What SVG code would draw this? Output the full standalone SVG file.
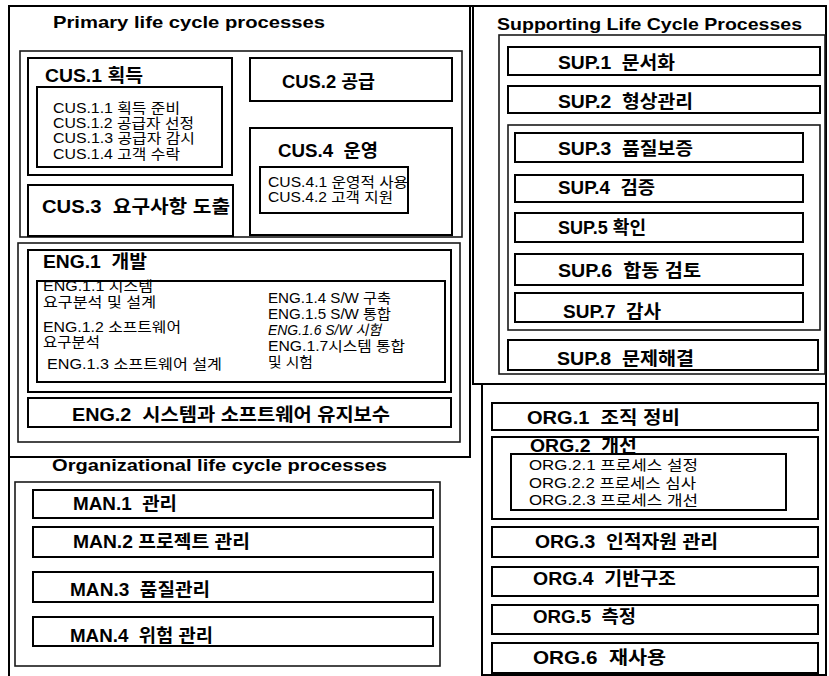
<svg xmlns="http://www.w3.org/2000/svg" width="829" height="676" viewBox="0 0 829 676">
<style>
.frame{fill:none;stroke:#000;stroke-width:2}
.cont{fill:none;stroke:#1a1a1a;stroke-width:1.6}
.box{fill:#fff;stroke:#000;stroke-width:2}
text{font-family:"Liberation Sans","Noto Sans CJK KR",sans-serif;fill:#000;white-space:pre}
.h{font-size:17px;font-weight:bold}
.b{font-size:18px;font-weight:bold}
.s{font-size:14px}
.i{font-style:italic}
</style>
<rect width="829" height="676" fill="#fff"/>

<g id="frames">
<path class="frame" d="M9,676 V6 H826 V384"/>
<path class="frame" d="M470,6 V457 H9"/>
<path class="frame" d="M473,6 V384 H826"/>
<path class="frame" d="M482,676 V384"/>
<path class="frame" d="M826,384 V675 H482"/>
</g>

<g id="primary">
<text class="h" x="53" y="28" textLength="272" lengthAdjust="spacingAndGlyphs">Primary life cycle processes</text>
<rect class="cont" x="20" y="51" width="442" height="186"/>
<rect class="cont" x="18" y="243" width="442" height="199"/>
</g>

<g id="cus1">
<rect class="box" x="28" y="58" width="204" height="117"/>
<text class="b" x="45" y="82" textLength="98" lengthAdjust="spacingAndGlyphs">CUS.1 획득</text>
<rect class="box" x="37" y="87" width="185" height="80"/>
<text class="s" x="53" y="113" textLength="127" lengthAdjust="spacingAndGlyphs">CUS.1.1 획득 준비</text>
<text class="s" x="53" y="128" textLength="141" lengthAdjust="spacingAndGlyphs">CUS.1.2 공급자 선정</text>
<text class="s" x="53" y="143" textLength="142" lengthAdjust="spacingAndGlyphs">CUS.1.3 공급자 감시</text>
<text class="s" x="53" y="159" textLength="127" lengthAdjust="spacingAndGlyphs">CUS.1.4 고객 수락</text>
</g>

<g id="cus2">
<rect class="box" x="250" y="58" width="202" height="43"/>
<text class="b" x="282" y="88" textLength="93" lengthAdjust="spacingAndGlyphs">CUS.2 공급</text>
</g>

<g id="cus3">
<rect class="box" x="28" y="185" width="205" height="51"/>
<text class="b" x="42" y="213" textLength="188" lengthAdjust="spacingAndGlyphs">CUS.3  요구사항 도출</text>
</g>

<g id="cus4">
<rect class="box" x="250" y="128" width="202" height="107"/>
<text class="b" x="278" y="157" textLength="100" lengthAdjust="spacingAndGlyphs">CUS.4  운영</text>
<rect class="box" x="260" y="167" width="148" height="46"/>
<text class="s" x="268" y="187" textLength="140" lengthAdjust="spacingAndGlyphs">CUS.4.1 운영적 사용</text>
<text class="s" x="268" y="202" textLength="125" lengthAdjust="spacingAndGlyphs">CUS.4.2 고객 지원</text>
</g>

<g id="eng1">
<rect class="box" x="28" y="250" width="423" height="142"/>
<text class="b" x="43" y="268" textLength="104" lengthAdjust="spacingAndGlyphs">ENG.1  개발</text>
<rect class="box" x="37" y="281" width="408" height="101"/>
<text class="s" x="43" y="291" textLength="110" lengthAdjust="spacingAndGlyphs">ENG.1.1 시스템</text>
<text class="s" x="43" y="307" textLength="113" lengthAdjust="spacingAndGlyphs">요구분석 및 설계</text>
<text class="s" x="43" y="332" textLength="138" lengthAdjust="spacingAndGlyphs">ENG.1.2 소프트웨어</text>
<text class="s" x="43" y="347" textLength="57" lengthAdjust="spacingAndGlyphs">요구분석</text>
<text class="s" x="47" y="369" textLength="175" lengthAdjust="spacingAndGlyphs">ENG.1.3 소프트웨어 설계</text>
<text class="s" x="268" y="303" textLength="123" lengthAdjust="spacingAndGlyphs">ENG.1.4 S/W 구축</text>
<text class="s" x="268" y="319" textLength="123" lengthAdjust="spacingAndGlyphs">ENG.1.5 S/W 통합</text>
<text class="s i" x="268" y="335" textLength="113" lengthAdjust="spacingAndGlyphs">ENG.1.6 S/W 시험</text>
<text class="s" x="268" y="351" textLength="137" lengthAdjust="spacingAndGlyphs">ENG.1.7시스템 통합</text>
<text class="s" x="268" y="367" textLength="45" lengthAdjust="spacingAndGlyphs">및 시험</text>
</g>

<g id="eng2">
<rect class="box" x="28" y="398" width="423" height="29"/>
<text class="b" x="72" y="421" textLength="318" lengthAdjust="spacingAndGlyphs">ENG.2  시스템과 소프트웨어 유지보수</text>
</g>

<g id="organizational">
<text class="h" x="52" y="471" textLength="335" lengthAdjust="spacingAndGlyphs">Organizational life cycle processes</text>
<rect class="cont" x="15" y="482" width="425" height="184"/>
</g>

<g id="man1">
<rect class="box" x="33" y="490" width="400" height="28"/>
<text class="b" x="73" y="510" textLength="104" lengthAdjust="spacingAndGlyphs">MAN.1  관리</text>
</g>
<g id="man2">
<rect class="box" x="33" y="527" width="400" height="30"/>
<text class="b" x="73" y="548" textLength="177" lengthAdjust="spacingAndGlyphs">MAN.2 프로젝트 관리</text>
</g>
<g id="man3">
<rect class="box" x="33" y="572" width="400" height="30"/>
<text class="b" x="70" y="596" textLength="140" lengthAdjust="spacingAndGlyphs">MAN.3  품질관리</text>
</g>
<g id="man4">
<rect class="box" x="33" y="617" width="400" height="29"/>
<text class="b" x="70" y="642" textLength="143" lengthAdjust="spacingAndGlyphs">MAN.4  위험 관리</text>
</g>

<g id="supporting">
<text class="h" x="497" y="30" textLength="305" lengthAdjust="spacingAndGlyphs">Supporting Life Cycle Processes</text>
<rect class="cont" x="499" y="35" width="326" height="339"/>
<rect class="cont" x="508" y="125" width="312" height="205"/>
</g>

<g id="sup1">
<rect class="box" x="508" y="47" width="312" height="28"/>
<text class="b" x="558" y="69" textLength="117" lengthAdjust="spacingAndGlyphs">SUP.1  문서화</text>
</g>
<g id="sup2">
<rect class="box" x="508" y="86" width="312" height="27"/>
<text class="b" x="558" y="108" textLength="135" lengthAdjust="spacingAndGlyphs">SUP.2  형상관리</text>
</g>
<g id="sup3">
<rect class="box" x="515" y="133" width="288" height="29"/>
<text class="b" x="558" y="155" textLength="135" lengthAdjust="spacingAndGlyphs">SUP.3  품질보증</text>
</g>
<g id="sup4">
<rect class="box" x="515" y="175" width="288" height="27"/>
<text class="b" x="558" y="194" textLength="97" lengthAdjust="spacingAndGlyphs">SUP.4  검증</text>
</g>
<g id="sup5">
<rect class="box" x="515" y="213" width="288" height="29"/>
<text class="b" x="558" y="234" textLength="88" lengthAdjust="spacingAndGlyphs">SUP.5 확인</text>
</g>
<g id="sup6">
<rect class="box" x="515" y="254" width="288" height="31"/>
<text class="b" x="558" y="277" textLength="143" lengthAdjust="spacingAndGlyphs">SUP.6  합동 검토</text>
</g>
<g id="sup7">
<rect class="box" x="515" y="293" width="288" height="29"/>
<text class="b" x="563" y="318" textLength="98" lengthAdjust="spacingAndGlyphs">SUP.7  감사</text>
</g>
<g id="sup8">
<rect class="box" x="508" y="340" width="310" height="30"/>
<text class="b" x="557" y="365" textLength="137" lengthAdjust="spacingAndGlyphs">SUP.8  문제해결</text>
</g>

<g id="org1">
<rect class="box" x="492" y="403" width="326" height="27"/>
<text class="b" x="527" y="424" textLength="153" lengthAdjust="spacingAndGlyphs">ORG.1  조직 정비</text>
</g>
<g id="org2">
<rect class="box" x="492" y="437" width="326" height="82"/>
<text class="b" x="530" y="452" textLength="107" lengthAdjust="spacingAndGlyphs">ORG.2  개선</text>
<rect class="box" x="511" y="454" width="275" height="56"/>
<text class="s" x="529" y="470" textLength="169" lengthAdjust="spacingAndGlyphs">ORG.2.1 프로세스 설정</text>
<text class="s" x="529" y="488" textLength="167" lengthAdjust="spacingAndGlyphs">ORG.2.2 프로세스 심사</text>
<text class="s" x="529" y="505" textLength="169" lengthAdjust="spacingAndGlyphs">ORG.2.3 프로세스 개선</text>
</g>
<g id="org3">
<rect class="box" x="492" y="527" width="326" height="30"/>
<text class="b" x="535" y="548" textLength="183" lengthAdjust="spacingAndGlyphs">ORG.3  인적자원 관리</text>
</g>
<g id="org4">
<rect class="box" x="492" y="567" width="326" height="29"/>
<text class="b" x="533" y="585" textLength="143" lengthAdjust="spacingAndGlyphs">ORG.4  기반구조</text>
</g>
<g id="org5">
<rect class="box" x="492" y="605" width="326" height="29"/>
<text class="b" x="533" y="623" textLength="103" lengthAdjust="spacingAndGlyphs">ORG.5  측정</text>
</g>
<g id="org6">
<rect class="box" x="492" y="643" width="326" height="30"/>
<text class="b" x="533" y="664" textLength="133" lengthAdjust="spacingAndGlyphs">ORG.6  재사용</text>
</g>

<g id="connectors"></g>
</svg>
